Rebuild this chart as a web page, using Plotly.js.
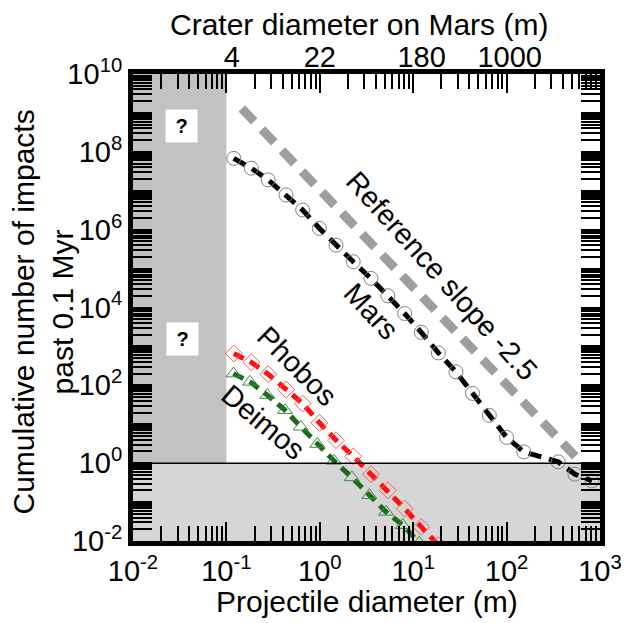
<!DOCTYPE html>
<html>
<head>
<meta charset="utf-8">
<script src="https://cdn.plot.ly/plotly-3.0.1.min.js"></script>
<style>html,body{margin:0;padding:0;background:#fff;}</style>
</head>
<body>
<div id="chart" style="width:624px;height:623px;"></div>
<script>
// ---- data ----
const marsX = [0.12, 0.185, 0.28, 0.435, 0.656, 0.99, 1.49, 2.28, 3.53, 5.35, 8.1, 12.2, 18.6, 28.7, 43.1, 65.3, 100, 153, 357, 540, 820];
const marsN = [6.8e7, 3.8e7, 1.9e7, 7.8e6, 3.2e6, 1.08e6, 4.0e5, 1.5e5, 5.6e4, 2.0e4, 7.0e3, 2.3e3, 680, 222, 62, 17, 4.6, 1.95, 1.08, 0.52, 0.35];
const phobosX = [0.12, 0.185, 0.28, 0.435, 0.656, 0.99, 1.49, 2.28, 3.53, 5.35, 8.1, 12.2, 18.6];
const phobosN = [660, 390, 194, 78, 34, 10.9, 3.9, 1.5, 0.52, 0.2, 0.068, 0.023, 0.0078];
const deimosX = [0.119, 0.179, 0.274, 0.424, 0.625, 0.94, 1.42, 2.2, 3.39, 5.12, 7.73, 11.6];
const deimosN = [200, 123, 56, 23, 8.6, 3.1, 1.15, 0.43, 0.15, 0.056, 0.0255, 0.009];
const refX = [0.146, 640];
const refN = [1.3e9, 1.0];

const xTickVals = [0.01, 0.1, 1, 10, 100, 1000];
const xTickText = ['10<sup>-2</sup>', '10<sup>-1</sup>', '10<sup>0</sup>', '10<sup>1</sup>', '10<sup>2</sup>', '10<sup>3</sup>'];
const craterTickVals = [0.114, 1, 12.3, 108];
const craterTickText = ['4', '22', '180', '1000'];
const yTickVals = [1e-2, 1e-1, 1, 10, 1e2, 1e3, 1e4, 1e5, 1e6, 1e7, 1e8, 1e9, 1e10];
const yTickText = ['10<sup>-2</sup>', '', '10<sup>0</sup>', '', '10<sup>2</sup>', '', '10<sup>4</sup>', '', '10<sup>6</sup>', '', '10<sup>8</sup>', '', '10<sup>10</sup>'];

const FONT = 'Liberation Sans, Arial, Helvetica, sans-serif';

const traces = [
  {x: refX, y: refN, mode: 'lines', line: {color: '#9e9e9e', width: 9, dash: '18px,11px'}, hoverinfo: 'skip'},
  {x: marsX, y: marsN, mode: 'lines+markers', line: {color: 'black', width: 5, dash: '13px,8px'},
   marker: {symbol: 'circle-open', size: 14, color: '#808080', line: {width: 1, color: '#808080'}}},
  {x: phobosX, y: phobosN, mode: 'lines+markers', line: {color: '#ff1010', width: 5, dash: '11px,7px'},
   marker: {symbol: 'diamond-open', size: 13, color: '#ff5a5a', line: {width: 1, color: '#ff5a5a'}}},
  {x: deimosX, y: deimosN, mode: 'lines+markers', line: {color: '#1d6a1d', width: 5, dash: '11px,7px'},
   marker: {symbol: 'triangle-up-open', size: 13, color: '#3d8a3d', line: {width: 1, color: '#3d8a3d'}}},
  {x: [1], y: [1], xaxis: 'x2', mode: 'markers', marker: {opacity: 0}, hoverinfo: 'skip'}
];

const axCommon = {
  type: 'log', showgrid: false, zeroline: false,
  ticks: 'inside', ticklen: 19, tickwidth: 2, tickcolor: 'black',
  showline: true, linewidth: 5, linecolor: 'black', mirror: 'allticks',
  minor: {ticks: 'inside', ticklen: 15, tickwidth: 2, tickcolor: 'black', dtick: 'D1', showgrid: false},
  tickfont: {family: FONT, size: 29, color: 'black'}
};

const layout = {
  width: 624, height: 623,
  margin: {l: 133, r: 24, t: 74, b: 82},
  paper_bgcolor: 'white', plot_bgcolor: 'white',
  showlegend: false,
  font: {family: FONT, size: 29, color: 'black'},
  xaxis: Object.assign({}, axCommon, {range: [-2, 3], tickmode: 'array', tickvals: xTickVals, ticktext: xTickText}),
  xaxis2: {type: 'log', range: [-2, 3], overlaying: 'x', side: 'top', anchor: 'y', tickmode: 'array',
           tickvals: craterTickVals, ticktext: craterTickText, ticks: '', showline: false, showgrid: false, zeroline: false,
           tickfont: {family: FONT, size: 29, color: 'black'}},
  yaxis: Object.assign({}, axCommon, {range: [-2, 10], tickmode: 'array', tickvals: yTickVals, ticktext: yTickText}),
  shapes: [
    {type: 'rect', xref: 'x', yref: 'y', x0: 0.01, x1: 0.1, y0: 1, y1: 1e10, fillcolor: '#c2c2c2', line: {width: 0}, layer: 'below'},
    {type: 'rect', xref: 'x', yref: 'y', x0: 0.01, x1: 1000, y0: 0.01, y1: 1, fillcolor: '#d6d6d6', line: {width: 0}, layer: 'below'},
    {type: 'line', xref: 'x', yref: 'y', x0: 0.01, x1: 1000, y0: 1, y1: 1, line: {color: 'black', width: 1.5}}
  ],
  annotations: [
    {xref: 'paper', yref: 'paper', x: 0.484, y: 1.105, text: 'Crater diameter on Mars (m)', showarrow: false, font: {size: 30}, xanchor: 'center', yanchor: 'middle'},
    {xref: 'paper', yref: 'paper', x: 0.501, y: -0.1306, text: 'Projectile diameter (m)', showarrow: false, font: {size: 30}, xanchor: 'center', yanchor: 'middle'},
    {xref: 'paper', yref: 'paper', x: -0.192, y: 0.49, text: 'Cumulative number of impacts<br>past 0.1 Myr', showarrow: false, font: {size: 30}, textangle: -90, xanchor: 'center', yanchor: 'middle'},
    {xref: 'x', yref: 'y', x: 1.308, y: 4.807, text: 'Reference slope -2.5', showarrow: false, textangle: 48, font: {size: 29}},
    {xref: 'x', yref: 'y', x: 0.548, y: 3.907, text: 'Mars', showarrow: false, textangle: 47, font: {size: 29}},
    {xref: 'x', yref: 'y', x: -0.244, y: 2.494, text: 'Phobos', showarrow: false, textangle: 45, font: {size: 29}},
    {xref: 'x', yref: 'y', x: -0.608, y: 1.054, text: 'Deimos', showarrow: false, textangle: 40, font: {size: 29}},
    {xref: 'x', yref: 'y', x: -1.481, y: 8.663, text: '<b>?</b>', showarrow: false, bgcolor: 'white', width: 29, height: 30, font: {size: 20}},
    {xref: 'x', yref: 'y', x: -1.465, y: 3.188, text: '<b>?</b>', showarrow: false, bgcolor: 'white', width: 29, height: 30, font: {size: 20}}
  ]
};

Plotly.newPlot('chart', traces, layout, {displayModeBar: false, staticPlot: true});
</script>
</body>
</html>
